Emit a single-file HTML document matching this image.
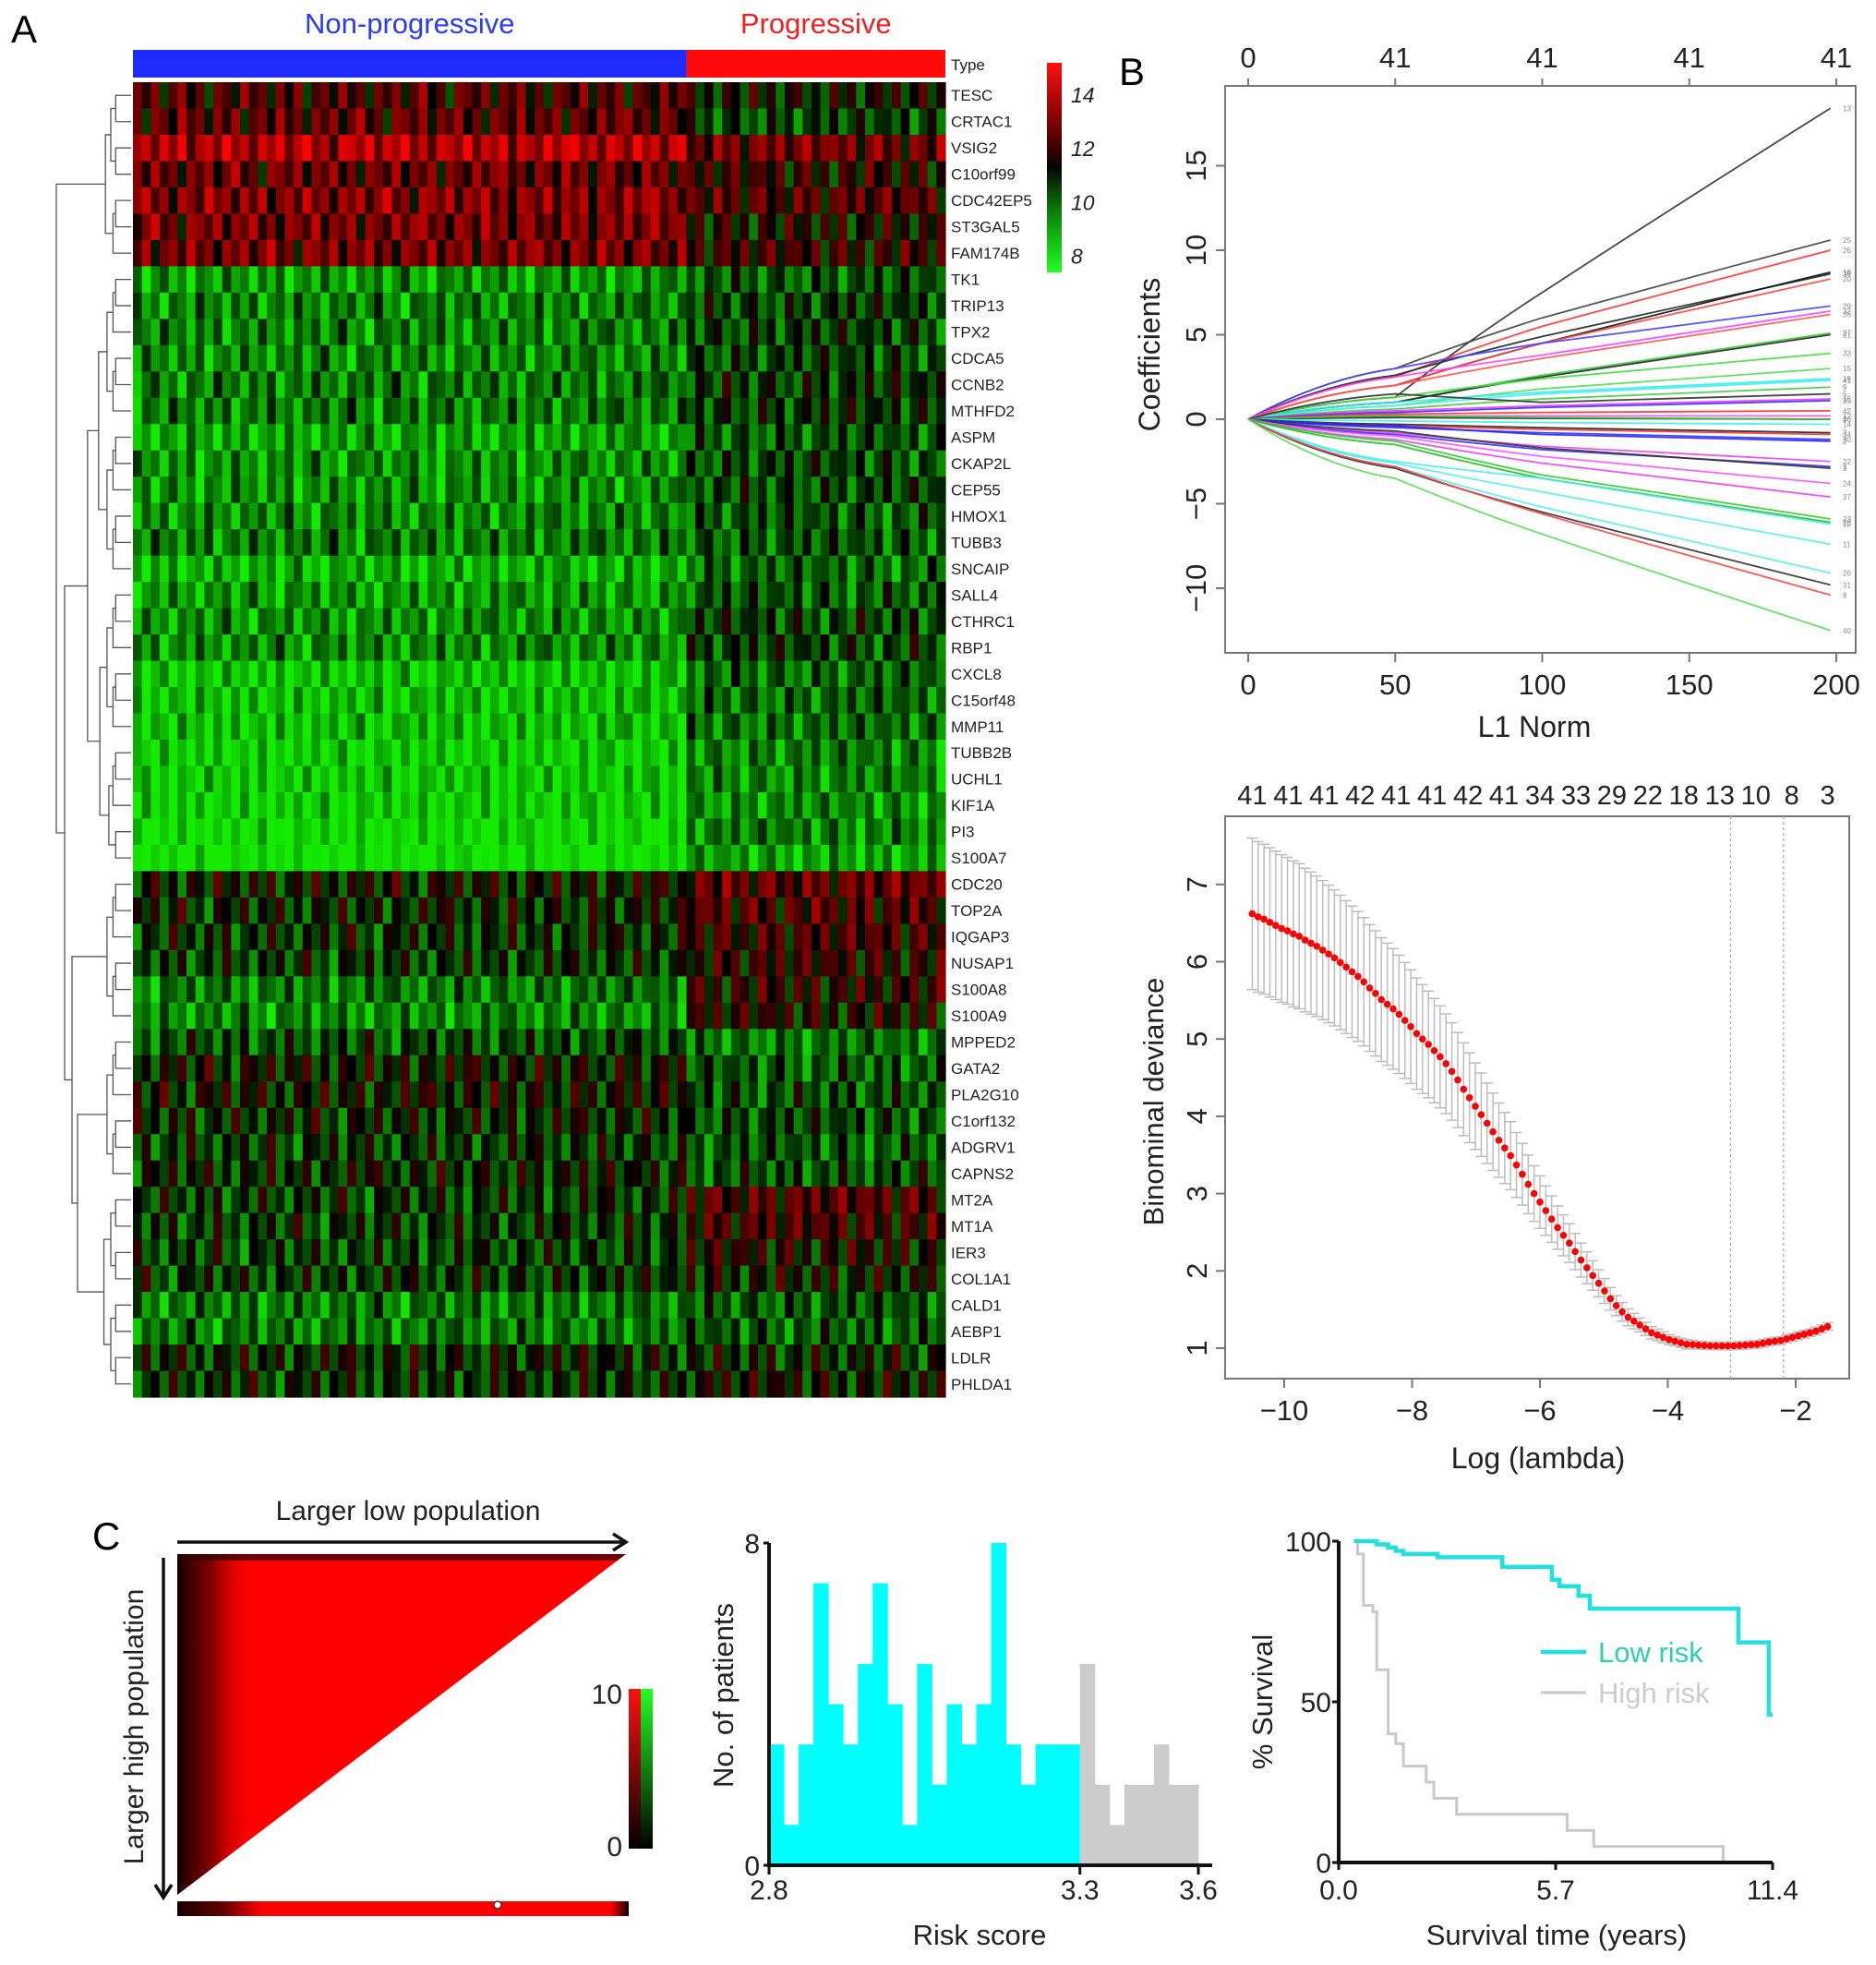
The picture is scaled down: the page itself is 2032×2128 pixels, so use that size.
<!DOCTYPE html>
<html><head><meta charset="utf-8"><style>
html,body{margin:0;padding:0;background:#fff;}
svg{display:block;font-family:"Liberation Sans",Arial,sans-serif;}
</style></head><body>
<svg id="fig" width="2032" height="2128" viewBox="0 0 2032 2128" xmlns="http://www.w3.org/2000/svg">
<g id="pA"></g>
<g id="pB1"></g>
<g id="pB2"></g>
<g id="pC1"></g>
<g id="pC2"></g>
<g id="pC3"></g>
</svg>
<script>
// ---------- Panel A data ----------
const genes=["TESC","CRTAC1","VSIG2","C10orf99","CDC42EP5","ST3GAL5","FAM174B","TK1","TRIP13","TPX2","CDCA5","CCNB2","MTHFD2","ASPM","CKAP2L","CEP55","HMOX1","TUBB3","SNCAIP","SALL4","CTHRC1","RBP1","CXCL8","C15orf48","MMP11","TUBB2B","UCHL1","KIF1A","PI3","S100A7","CDC20","TOP2A","IQGAP3","NUSAP1","S100A8","S100A9","MPPED2","GATA2","PLA2G10","C1orf132","ADGRV1","CAPNS2","MT2A","MT1A","IER3","COL1A1","CALD1","AEBP1","LDLR","PHLDA1"];
const meanNonProg=[11.6,11.8,12.9,11.9,12.3,12.1,12.1,9.2,9.5,9.5,9.4,9.6,9.6,9.0,9.3,9.3,9.4,9.6,8.8,9.2,9.3,9.4,8.5,8.6,8.6,8.3,8.4,8.3,8.0,7.8,10.8,10.6,10.5,10.4,9.6,9.4,10.2,10.8,10.8,10.6,10.4,10.6,10.4,10.4,10.3,10.4,9.6,9.6,10.6,10.5];
const meanProg=[10.8,10.2,12.0,11.2,11.6,11.0,11.3,10.0,10.3,10.3,10.2,10.4,10.4,10.0,10.2,10.2,10.0,10.0,9.8,10.0,10.3,10.3,9.8,9.8,9.7,9.5,9.4,9.3,9.5,9.0,11.8,11.6,11.4,11.2,11.2,11.0,9.6,10.0,10.2,10.2,10.0,10.2,11.6,11.4,11.0,10.8,10.0,10.0,10.6,10.8];
const colEffect=[0.5,-0.3,0.8,-1.2,0.2,1.0,-0.6,0.3,-1.4,0.6,0.1,-0.8,1.2,-0.2,0.4,-1.0,0.7,-0.5,0.9,-1.3,0.0,0.5,-0.7,1.1,-0.4,0.3,-1.1,0.6,-0.2,0.8,-0.9,0.2,1.3,-0.6,0.1,-1.5,0.7,0.4,-0.3,0.9,-1.0,0.5,-0.1,1.0,-0.8,0.3,-1.2,0.6,0.2,-0.5,1.1,-0.9,0.4,-0.2,0.8,-1.3,0.5,0.0,-0.7,1.0,-0.4,0.6,0.9,-0.5,0.3,-1.0,0.7,0.2,-0.8,1.2,-0.3,0.5,-1.1,0.4,0.8,-0.6,0.1,-0.9,1.0,-0.2,0.6,-1.2,0.3,0.7,-0.4,0.9,-0.7,0.2,1.1,-0.5,0.4];
const rowShift=[0,7,13,21,4,30,17,2,5,9,11,3,8,6,12,1,15,10,14,19,22,16,2,5,7,9,4,11,18,25,3,27,8,13,33,20,6,24,29,12,17,35,9,14,23,31,5,26,38,19];
const nNonProg=62;
const keyLabels=["14","12","10","8"];
const keyValues=[14,12,10,8];

// ---------- Panel B1 data (coefficient at L1 = 50,100,198) ----------
const l1Ticks=[0,50,100,150,200];
const dfTop=["0","41","41","41","41"];
const coefTicks=[15,10,5,0,-5,-10];
const coefAt50=[1.3,3.0,2.5,2.6,2.0,2.0,3.0,2.5,2.0,1.0,1.0,1.3,0.8,1.0,0.8,0.6,1.5,0.5,0.4,0.3,0.2,0.1,0.2,-0.1,-0.3,-0.4,-0.5,-0.4,-0.8,-0.9,-0.7,-1.0,-1.2,-1.3,-1.5,-2.5,-2.6,-2.8,-2.9,-2.8,-3.5];
const coefAt100=[7.5,6.0,5.5,4.9,4.5,4.5,4.5,3.8,3.6,2.6,2.5,2.4,1.8,1.6,1.5,1.2,1.0,0.8,0.7,0.4,0.2,0.05,0.1,-0.2,-0.5,-0.6,-0.8,-0.9,-1.6,-1.8,-1.7,-2.2,-2.6,-3.3,-3.5,-3.5,-4.3,-5.2,-5.5,-5.6,-6.8];
const coefEnd=[18.4,10.6,10.0,8.6,8.7,8.3,6.7,6.4,6.2,5.1,5.0,3.9,3.0,2.4,2.3,1.9,1.5,1.2,1.1,0.5,0.2,0.0,0.0,-0.3,-0.8,-0.9,-1.2,-1.3,-2.5,-2.8,-2.9,-3.8,-4.6,-5.9,-6.1,-6.2,-7.4,-9.1,-9.8,-10.4,-12.5];
const coefColors=["#333","#444","#f33","#222","#111","#f44","#44f","#f4f","#f55","#3c3","#222","#4d4","#5d5","#3ee","#4ee","#4c4","#333","#f3f","#33f","#f33","#f4f","#222","#3c3","#4ee","#222","#f33","#33f","#22f","#e4e","#33f","#333","#f5f","#e4e","#3c3","#2b2","#4ee","#5ee","#5ee","#333","#f44","#5d5"];
const coefLabels=["13","25","26","38","18","20","29","32","35","27","21","33","15","19","41","9","5","16","39","42","12","4","36","14","7","34","30","2","22","1","3","24","37","23","28","10","11","26","31","8","40"];

// ---------- Panel B2 data ----------
const lambdaTicks=[-10,-8,-6,-4,-2];
const devTicks=[1,2,3,4,5,6,7];
const nzTop=["41","41","41","42","41","41","42","41","34","33","29","22","18","13","10","8","3"];
const lambdaRange=[-10.5,-1.5];
const deviance=[6.62,6.58,6.55,6.51,6.47,6.43,6.40,6.36,6.33,6.28,6.24,6.20,6.15,6.10,6.05,5.99,5.93,5.87,5.81,5.74,5.66,5.59,5.51,5.45,5.39,5.32,5.24,5.16,5.07,5.00,4.93,4.85,4.77,4.68,4.58,4.47,4.35,4.24,4.13,4.02,3.91,3.80,3.69,3.59,3.49,3.37,3.25,3.12,3.00,2.89,2.78,2.67,2.56,2.46,2.36,2.25,2.14,2.04,1.94,1.84,1.74,1.64,1.55,1.47,1.40,1.35,1.30,1.25,1.20,1.17,1.14,1.11,1.09,1.07,1.05,1.045,1.04,1.035,1.03,1.03,1.03,1.03,1.03,1.035,1.04,1.045,1.05,1.065,1.08,1.09,1.10,1.12,1.14,1.16,1.18,1.20,1.22,1.25,1.28];
const devSE=[0.98,0.975,0.97,0.965,0.96,0.955,0.95,0.945,0.94,0.93,0.92,0.91,0.90,0.89,0.88,0.87,0.86,0.85,0.84,0.83,0.82,0.81,0.80,0.79,0.78,0.765,0.75,0.735,0.72,0.705,0.69,0.675,0.66,0.645,0.63,0.615,0.60,0.58,0.56,0.54,0.52,0.50,0.48,0.46,0.44,0.42,0.40,0.38,0.36,0.34,0.32,0.30,0.28,0.265,0.25,0.235,0.22,0.205,0.19,0.175,0.16,0.145,0.13,0.12,0.11,0.10,0.09,0.085,0.08,0.075,0.07,0.065,0.06,0.06,0.06,0.055,0.05,0.05,0.05,0.05,0.05,0.05,0.05,0.05,0.05,0.05,0.05,0.05,0.05,0.05,0.05,0.05,0.05,0.05,0.05,0.05,0.05,0.05,0.05];
const lambdaMin=-3.02, lambda1se=-2.19;

// ---------- Panel C data ----------
const histLow=[3,1,3,7,4,3,5,7,4,1,5,2,4,3,4,8,3,2,3,3,3];
const histHigh=[5,2,1,2,2,3,2,2];
const riskTicks=["2.8","3.3","3.6"];
const riskTickBins=[0,21,29];
const lowT=[0.4,1.0,1.3,1.5,1.7,2.6,4.3,5.6,5.8,6.3,6.6,10.5,11.3,11.4];
const lowS=[100,99,98,97,96,95,92,88,86,83,79,68.5,46,46];
const highT=[0.4,0.5,0.65,0.9,1.0,1.3,1.5,1.7,2.3,2.5,3.1,6.0,6.7,10.1];
const highS=[100,96,80,78,60,40,37,30,25,20,15,10,5,0];
const survTicks=[0,50,100];
const timeTicks=[0,5.7,11.4];
const timeTickLabels=["0.0","5.7","11.4"];

// ---------- helpers ----------
const NS="http://www.w3.org/2000/svg";
function mk(parent,tag,attrs,txt){const e=document.createElementNS(NS,tag);for(const k in attrs)e.setAttribute(k,attrs[k]);if(txt!==undefined)e.textContent=txt;parent.appendChild(e);return e;}
function heatColor(v){let t=(v-11)/3;t=Math.max(-1,Math.min(1,t));
  if(t<0){const g=Math.round(235*Math.pow(-t,0.85));return `rgb(${Math.round(20*(-t))},${g},0)`;}
  const r=Math.round(255*Math.pow(t,0.85));return `rgb(${r},0,0)`;}

// ================= PANEL A =================
(function(){
const g=document.getElementById('pA');
let e=mk(g,'text',{x:12,y:46,'font-size':42},'A');

const X0=144,X1=1024,Y0=89,Y1=1513;
const nC=colEffect.length,cw=(X1-X0)/nC,rh=(Y1-Y0)/genes.length;
const xSplit=X0+nNonProg*cw;
e=mk(g,'rect',{x:X0,y:54,width:xSplit-X0,height:30,fill:'#1f2bff'});

e=mk(g,'rect',{x:xSplit,y:54,width:X1-xSplit,height:30,fill:'#ff0a0a'});

e=mk(g,'text',{x:(X0+xSplit)/2,y:36,'font-size':31,fill:'#2a3af5','text-anchor':'middle'},'Non-progressive');

e=mk(g,'text',{x:(xSplit+X1)/2,y:36,'font-size':31,fill:'#f02020','text-anchor':'middle'},'Progressive');

e=mk(g,'text',{x:1030,y:76,'font-size':17,fill:'#222'},'Type');

const cells=mk(g,'g',{});

for(let r=0;r<genes.length;r++){
  for(let c=0;c<nC;c++){
    const base=c<nNonProg?meanNonProg[r]:meanProg[r];
    const v=base+colEffect[(c+rowShift[r])%nC];
    const rc=mk(cells,'rect',{x:(X0+c*cw).toFixed(2),y:(Y0+r*rh).toFixed(2),width:(cw+0.6).toFixed(2),height:(rh+0.6).toFixed(2),fill:heatColor(v)});
    
    
  }
  const t=mk(g,'text',{x:1030,y:(Y0+(r+0.5)*rh+6).toFixed(1),'font-size':17,fill:'#222'},genes[r]);
  
  
}
const defs=mk(g,'defs',{});
const lg=mk(defs,'linearGradient',{id:'hkey',x1:0,y1:1,x2:0,y2:0});
[[0,'#22ff22'],[0.3,'#0a7a0a'],[0.5,'#050505'],[0.65,'#5a0000'],[1,'#ff1010']].forEach(s=>mk(lg,'stop',{offset:s[0],'stop-color':s[1]}));
e=mk(g,'rect',{x:1134,y:68,width:16,height:227,fill:'url(#hkey)'});

const kv=v=>295-(v-7.4)/(15.2-7.4)*227;
keyValues.forEach((v,i)=>{const t=mk(g,'text',{x:1160,y:kv(v)+8,'font-size':23,'font-style':'italic',fill:'#222'},keyLabels[i]);
  });
const dg=mk(g,'g',{fill:'none',stroke:'#555','stroke-width':1.3});

const yc=i=>Y0+(i+0.5)*rh;
function tree(lo,hi){ if(lo===hi) return {y:yc(lo),x:X0-2};
  const mid=Math.floor((lo+hi)/2);const a=tree(lo,mid),b=tree(mid+1,hi);
  const x=X0-6-9*Math.sqrt(hi-lo+1);
  mk(dg,'path',{d:`M${a.x},${a.y}H${x}V${b.y}H${b.x}`});return {y:(a.y+b.y)/2,x:x};}
function join(a,b,x){mk(dg,'path',{d:`M${a.x},${a.y}H${x}V${b.y}H${b.x}`});return {y:(a.y+b.y)/2,x:x};}
const A=tree(0,6),B=tree(7,29),C=tree(30,35),D=tree(36,41),E=tree(42,49);
const DE=join(D,E,84),CDE=join(C,DE,78),BCDE=join(B,CDE,70);join(A,BCDE,61);
})();

// ================= PANEL B1 =================
(function(){
const g=document.getElementById('pB1');
let e=mk(g,'text',{x:1212,y:92,'font-size':42},'B');

const L=1327,R=2010,T=93,Bm=707;
const xs=v=>1352+v/200*(1989-1352);
const ys=v=>454-v*18.3;
e=mk(g,'rect',{x:L,y:T,width:R-L,height:Bm-T,fill:'none',stroke:'#777','stroke-width':2});

l1Ticks.forEach((v,i)=>{
  mk(g,'line',{x1:xs(v),x2:xs(v),y1:Bm,y2:Bm+10,stroke:'#777','stroke-width':2});
  mk(g,'line',{x1:xs(v),x2:xs(v),y1:T,y2:T-8,stroke:'#777','stroke-width':2});
  let t=mk(g,'text',{x:xs(v),y:752,'font-size':31,'text-anchor':'middle',fill:'#222'},String(v));
  
  t=mk(g,'text',{x:xs(v),y:73,'font-size':31,'text-anchor':'middle',fill:'#222'},dfTop[i]);
  
});
coefTicks.forEach(v=>{
  mk(g,'line',{x1:L,x2:L-10,y1:ys(v),y2:ys(v),stroke:'#777','stroke-width':2});
  const t=mk(g,'text',{x:1306,y:ys(v),'font-size':31,'text-anchor':'middle',fill:'#222',transform:`rotate(-90 1306 ${ys(v)})`},v<0?'\u2212'+(-v):String(v));
  
});
e=mk(g,'text',{x:1662,y:798,'font-size':32,'text-anchor':'middle',fill:'#222'},'L1 Norm');

e=mk(g,'text',{x:1256,y:384,'font-size':32,'text-anchor':'middle',fill:'#222',transform:'rotate(-90 1256 384)'},'Coefficients');

for(let i=0;i<coefEnd.length;i++){
  const a=coefAt50[i],b=coefAt100[i],c=coefEnd[i];
  const p=mk(g,'path',{d:`M${xs(0)},${ys(0)} Q${xs(25)},${ys(a*0.8)} ${xs(50)},${ys(a)} Q${xs(75)},${ys((a+b)/2+ (b-a)*0.05)} ${xs(100)},${ys(b)} Q${xs(150)},${ys(b+(c-b)*0.52)} ${xs(198)},${ys(c)}`,fill:'none',stroke:coefColors[i],'stroke-width':1.8,'stroke-linejoin':'round','stroke-opacity':0.9});
  
  
  const t=mk(g,'text',{x:1996,y:ys(coefEnd[i])+3,'font-size':8,fill:'#888'},coefLabels[i]);
  
  
}
})();

// ================= PANEL B2 =================
(function(){
const g=document.getElementById('pB2');
const L=1327,R=2003,T=884,Bm=1493;
const xs=v=>1391+(v+10)*69.25;
const ys=v=>1460-(v-1)*83.7;
const n=deviance.length;
const lam=i=>lambdaRange[0]+(lambdaRange[1]-lambdaRange[0])*i/(n-1);
let e=mk(g,'rect',{x:L,y:T,width:R-L,height:Bm-T,fill:'none',stroke:'#777','stroke-width':2});

lambdaTicks.forEach(v=>{
  mk(g,'line',{x1:xs(v),x2:xs(v),y1:Bm,y2:Bm+10,stroke:'#777','stroke-width':2});
  const t=mk(g,'text',{x:xs(v),y:1538,'font-size':31,'text-anchor':'middle',fill:'#222'},'\u2212'+(-v));
  
});
devTicks.forEach(v=>{
  mk(g,'line',{x1:L,x2:L-10,y1:ys(v),y2:ys(v),stroke:'#777','stroke-width':2});
  const t=mk(g,'text',{x:1307,y:ys(v),'font-size':31,'text-anchor':'middle',fill:'#222',transform:`rotate(-90 1307 ${ys(v)})`},String(v));
  
});
nzTop.forEach((s,i)=>{
  const l=lambdaRange[0]+(lambdaRange[1]-lambdaRange[0])*i/(nzTop.length-1);
  const t=mk(g,'text',{x:xs(l),y:871,'font-size':29,'text-anchor':'middle',fill:'#222'},s);
  
});
e=mk(g,'text',{x:1666,y:1590,'font-size':32,'text-anchor':'middle',fill:'#222'},'Log (lambda)');

e=mk(g,'text',{x:1260,y:1193,'font-size':31,'text-anchor':'middle',fill:'#222',transform:'rotate(-90 1260 1193)'},'Binominal deviance');

[lambdaMin,lambda1se].forEach(v=>{const l=mk(g,'line',{x1:xs(v),x2:xs(v),y1:T,y2:Bm,stroke:'#aaa','stroke-width':1.2,'stroke-dasharray':'3,3'});
  });
for(let i=0;i<n;i++){
  const x=xs(lam(i)),yu=ys(deviance[i]+devSE[i]),yl=ys(deviance[i]-devSE[i]);
  const b=mk(g,'path',{d:`M${x},${yu}V${yl}M${x-6},${yu}H${x+6}M${x-6},${yl}H${x+6}`,stroke:'#bdbdbd','stroke-width':1.5,fill:'none'});
  
  
}
for(let i=0;i<n;i++){
  const c=mk(g,'circle',{cx:xs(lam(i)),cy:ys(deviance[i]),r:3.8,fill:'#ff0000'});
  
  
}
})();

// ================= PANEL C1 (X-tile) =================
(function(){
const g=document.getElementById('pC1');
let e=mk(g,'text',{x:100,y:1678,'font-size':42},'C');

const defs=mk(g,'defs',{});
const cp=mk(defs,'clipPath',{id:'triclip'});
mk(cp,'polygon',{points:'192,1683 678,1683 192,2052'});
let lg=mk(defs,'linearGradient',{id:'tdark',x1:0,y1:0,x2:1,y2:0});
[[0,'#140000',1],[0.45,'#700000',0.85],[1,'#ff0000',0]].forEach(s=>mk(lg,'stop',{offset:s[0],'stop-color':s[1],'stop-opacity':s[2]}));
lg=mk(defs,'linearGradient',{id:'bbar',x1:0,y1:0,x2:1,y2:0});
[[0,'#180000'],[0.1,'#600000'],[0.19,'#ff0000'],[0.96,'#ff0000'],[1,'#100000']].forEach(s=>mk(lg,'stop',{offset:s[0],'stop-color':s[1]}));
lg=mk(defs,'linearGradient',{id:'kred',x1:0,y1:1,x2:0,y2:0});
[[0,'#000'],[1,'#ff1010']].forEach(s=>mk(lg,'stop',{offset:s[0],'stop-color':s[1]}));
lg=mk(defs,'linearGradient',{id:'kgrn',x1:0,y1:1,x2:0,y2:0});
[[0,'#000'],[1,'#22ff22']].forEach(s=>mk(lg,'stop',{offset:s[0],'stop-color':s[1]}));
e=mk(g,'polygon',{points:'192,1683 678,1683 192,2052',fill:'#ff0000'});

const cg=mk(g,'g',{'clip-path':'url(#triclip)'});
mk(cg,'rect',{x:192,y:1683,width:85,height:370,fill:'url(#tdark)'});
mk(cg,'rect',{x:192,y:1683,width:486,height:7,fill:'#300000',opacity:0.7});
e=mk(g,'path',{d:'M192,1670H677M664,1661L678,1670L664,1679',stroke:'#111','stroke-width':3.5,fill:'none'});

e=mk(g,'path',{d:'M177,1687V2055M168,2041L177,2055L186,2041',stroke:'#111','stroke-width':3.5,fill:'none'});

e=mk(g,'text',{x:442,y:1646,'font-size':30,'text-anchor':'middle',fill:'#222'},'Larger low population');

e=mk(g,'text',{x:155,y:1870,'font-size':30,'text-anchor':'middle',fill:'#222',transform:'rotate(-90 155 1870)'},'Larger high population');

e=mk(g,'rect',{x:192,y:2059,width:489,height:16,fill:'url(#bbar)'});

e=mk(g,'circle',{cx:539,cy:2063,r:4,fill:'#fff',stroke:'#333','stroke-width':1.5});

e=mk(g,'rect',{x:681,y:1829,width:13,height:173,fill:'url(#kred)'});

e=mk(g,'rect',{x:694,y:1829,width:13,height:173,fill:'url(#kgrn)'});

e=mk(g,'text',{x:674,y:1845,'font-size':30,'text-anchor':'end',fill:'#222'},'10');

e=mk(g,'text',{x:674,y:2010,'font-size':30,'text-anchor':'end',fill:'#222'},'0');

})();

// ================= PANEL C2 (histogram) =================
(function(){
const g=document.getElementById('pC2');
const X0=833,Y0=2020,Ytop=1671,bw=(1298-833)/29;
const ys=v=>Y0-v/8*(Y0-Ytop);
const xb=i=>X0+i*bw;
histLow.forEach((v,i)=>{const r=mk(g,'rect',{x:xb(i),y:ys(v),width:bw+0.5,height:Y0-ys(v),fill:'#00ffff'});
  });
histHigh.forEach((v,i)=>{const r=mk(g,'rect',{x:xb(histLow.length+i),y:ys(v),width:bw+0.5,height:Y0-ys(v),fill:'#cccccc'});
  });
let e=mk(g,'path',{d:`M${X0},${Ytop}V${Y0}H1313`,stroke:'#111','stroke-width':4,fill:'none'});

mk(g,'path',{d:`M${X0},${Ytop}H${X0-6}M${X0},${Y0}H${X0-6}`,stroke:'#111','stroke-width':3});
[[8,'8'],[0,'0']].forEach(p=>{const t=mk(g,'text',{x:X0-10,y:ys(p[0])+11,'font-size':30,'text-anchor':'end',fill:'#222'},p[1]);
  });
riskTicks.forEach((s,i)=>{const x=xb(riskTickBins[i]);
  mk(g,'line',{x1:x,x2:x,y1:Y0,y2:Y0+10,stroke:'#111','stroke-width':3});
  const t=mk(g,'text',{x:x,y:2057,'font-size':30,'text-anchor':'middle',fill:'#222'},s);
  });
e=mk(g,'text',{x:1061,y:2106,'font-size':31,'text-anchor':'middle',fill:'#222'},'Risk score');

e=mk(g,'text',{x:794,y:1836,'font-size':31,'text-anchor':'middle',fill:'#222',transform:'rotate(-90 794 1836)'},'No. of patients');

})();

// ================= PANEL C3 (survival) =================
(function(){
const g=document.getElementById('pC3');
const X0=1450,X1=1920,Y0=2017,Ytop=1669;
const xs=t=>X0+t/11.4*(X1-X0);
const ys=s=>Y0-s/100*(Y0-Ytop);
function km(T,S){let d=`M${xs(T[0])},${ys(100)}`;
  for(let i=0;i<T.length;i++){d+=`H${xs(T[i])}V${ys(S[i])}`;}return d;}
let e=mk(g,'path',{d:km(highT,highS),stroke:'#c8c8c8','stroke-width':3,fill:'none'});

e=mk(g,'path',{d:km(lowT,lowS),stroke:'#22e0e0','stroke-width':4.5,fill:'none'});

e=mk(g,'path',{d:`M${X0},${Ytop}V${Y0}H${X1}`,stroke:'#111','stroke-width':4,fill:'none'});

survTicks.forEach(v=>{mk(g,'line',{x1:X0,x2:X0-7,y1:ys(v),y2:ys(v),stroke:'#111','stroke-width':3});
  const t=mk(g,'text',{x:X0-8,y:ys(v)+11,'font-size':30,'text-anchor':'end',fill:'#222'},String(v));
  });
timeTicks.forEach((v,i)=>{mk(g,'line',{x1:xs(v),x2:xs(v),y1:Y0,y2:Y0+8,stroke:'#111','stroke-width':3});
  const t=mk(g,'text',{x:xs(v),y:2057,'font-size':30,'text-anchor':'middle',fill:'#222'},timeTickLabels[i]);
  });
e=mk(g,'text',{x:1686,y:2106,'font-size':31,'text-anchor':'middle',fill:'#222'},'Survival time (years)');

e=mk(g,'text',{x:1378,y:1843,'font-size':31,'text-anchor':'middle',fill:'#222',transform:'rotate(-90 1378 1843)'},'% Survival');

e=mk(g,'line',{x1:1669,x2:1718,y1:1789,y2:1789,stroke:'#22e0e0','stroke-width':4.5});

e=mk(g,'text',{x:1731,y:1800,'font-size':31,fill:'#2ccfb0'},'Low risk');

e=mk(g,'line',{x1:1669,x2:1718,y1:1833,y2:1833,stroke:'#c8c8c8','stroke-width':3});

e=mk(g,'text',{x:1731,y:1844,'font-size':31,fill:'#cccccc'},'High risk');

})();
</script>
</body></html>
